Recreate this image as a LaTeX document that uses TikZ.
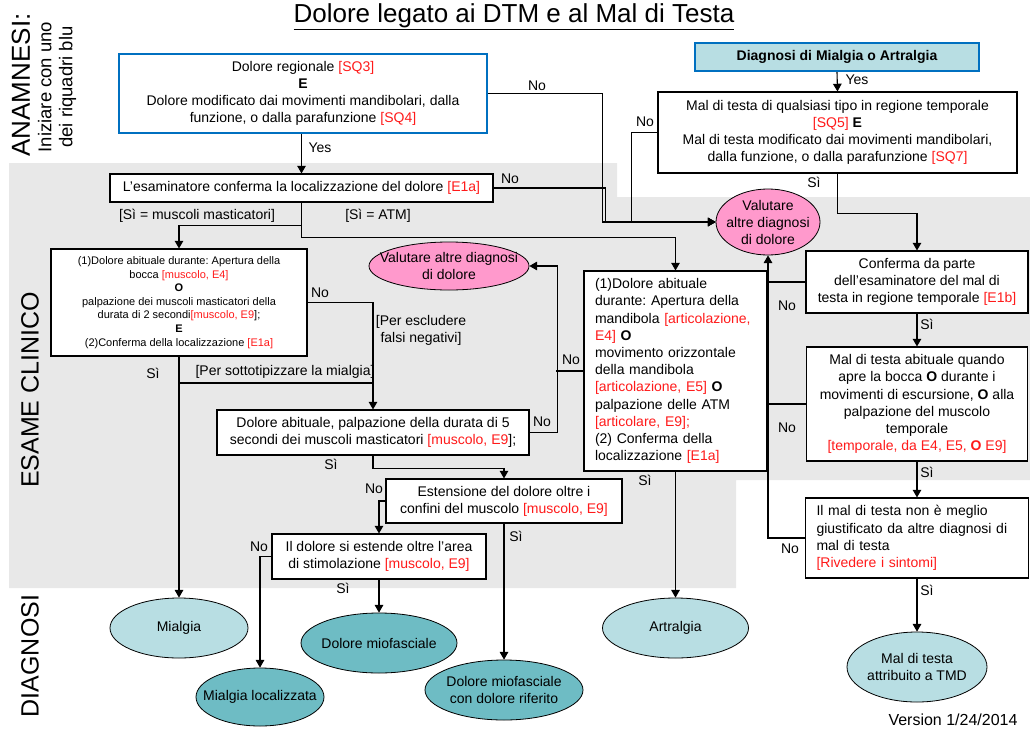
\documentclass[tikz,border=0pt]{standalone}
\usepackage{fontspec}
\setmainfont{Liberation Sans}
\usepackage{tikz}
\usetikzlibrary{arrows,shapes.geometric}
\definecolor{sfondo}{HTML}{E8E8E8}
\definecolor{rosa}{HTML}{FF99CC}
\definecolor{celeste}{HTML}{B8DEE3}
\definecolor{ottanio}{HTML}{6EBCC4}
\definecolor{blu}{HTML}{0070C0}
\definecolor{rosso}{HTML}{FF1A1A}
\newcommand{\rosso}[1]{\textcolor{rosso}{#1}}
\frenchspacing
\tikzset{box node/.style={draw,fill=white,line width=1.1pt,inner sep=0pt,align=center,font=\fontsize{14}{17}\selectfont},}
\tikzset{left node/.style={box node,align=left,inner xsep=11pt},}
\tikzset{oval node/.style={ellipse,draw,line width=0.8pt,inner sep=0pt},}
\tikzset{freccia/.style={-triangle 60,line width=1.1pt},}
\tikzstyle{ann} = [font=\fontsize{14}{17}\selectfont,inner sep=1pt]

\begin{document}
\begin{tikzpicture}[x=1pt,y=-1pt,inner sep=0.4mm]
\useasboundingbox (0,0) rectangle (1030,728);
\fill[sfondo] (9,163) -- (617,163) -- (617,197) -- (1030,197) -- (1030,480) -- (736,480) -- (736,588) -- (9,588) -- cycle;
\node[font=\fontsize{26}{26}\selectfont] (t1) at (514,17) {\underline{Dolore legato ai DTM e al Mal di Testa}};
\node[rotate=90,font=\fontsize{26}{26}\selectfont] (t2) at (21,85) {ANAMNESI:};
\node[rotate=90,align=center,font=\fontsize{18.5}{21}\selectfont] (t3) at (57,87) {Iniziare con uno\\dei riquadri blu};
\node[rotate=90,font=\fontsize{25}{25}\selectfont] (t4) at (30,390) {ESAME CLINICO};
\node[rotate=90,font=\fontsize{25}{25}\selectfont] (t5) at (30,656) {DIAGNOSI};

\node[box node,draw=blu,line width=2.2pt,minimum width=368pt,minimum height=79pt] (1) at (303,93.5) {Dolore regionale \rosso{[SQ3]}\\\textbf{E}\\Dolore modificato dai movimenti mandibolari, dalla\\funzione, o dalla parafunzione \rosso{[SQ4]}};
\node[box node,minimum width=383pt,minimum height=28pt] (2) at (301.5,188) {L’esaminatore conferma la localizzazione del dolore \rosso{[E1a]}};
\node[box node,draw=blu,fill=celeste,line width=2.2pt,minimum width=284pt,minimum height=28pt,font=\fontsize{14}{17}\selectfont\bfseries] (3) at (837,57) {Diagnosi di Mialgia o Artralgia};
\node[box node,minimum width=359pt,minimum height=81pt] (4) at (837.5,132.5) {Mal di testa di qualsiasi tipo in regione temporale\\\rosso{[SQ5]} \textbf{E}\\Mal di testa modificato dai movimenti mandibolari,\\dalla funzione, o dalla parafunzione \rosso{[SQ7]}};
\node[oval node,fill=rosa,minimum width=104pt,minimum height=66pt] (5) at (768,222) {};
\node[ann,align=center] (5t) at (5) {Valutare\\altre diagnosi\\di dolore};
\node[box node,minimum width=222pt,minimum height=62pt] (6) at (917,282) {Conferma da parte\\dell’esaminatore del mal di\\testa in regione temporale \rosso{[E1b]}};
\node[box node,minimum width=221pt,minimum height=114pt,font=\fontsize{14}{17.2}\selectfont] (7) at (917,404) {Mal di testa abituale quando\\apre la bocca \textbf{O} durante i\\movimenti di escursione, \textbf{O} alla\\palpazione del muscolo\\temporale\\\rosso{[temporale, da E4, E5, \textbf{O} E9]}};
\node[left node,text width=201pt,minimum height=80pt,font=\fontsize{14}{17.3}\selectfont] (8) at (917,538) {Il mal di testa non è meglio\\giustificato da altre diagnosi di\\mal di testa\\\rosso{[Rivedere i sintomi]}};
\node[oval node,fill=celeste,minimum width=140pt,minimum height=70pt] (9) at (917,667) {};
\node[ann,align=center] (9t) at (9) {Mal di testa\\attribuito a TMD};

\node[box node,minimum width=256pt,minimum height=107pt,font=\fontsize{11}{13.6}\selectfont] (10) at (179,302.5) {(1)Dolore abituale durante: Apertura della\\bocca \rosso{[muscolo, E4]}\\\textbf{O}\\palpazione dei muscoli masticatori della\\durata di 2 secondi\rosso{[muscolo, E9}];\\\textbf{E}\\(2)Conferma della localizzazione \rosso{[E1a]}};
\node[left node,text width=161pt,minimum height=200pt,font=\fontsize{14}{17.2}\selectfont] (11) at (675.5,371) {(1)Dolore abituale\\durante: Apertura della\\mandibola \rosso{[articolazione,}\\\rosso{E4]} \textbf{O}\\movimento orizzontale\\della mandibola\\\rosso{[articolazione, E5]} \textbf{O}\\palpazione delle ATM\\\rosso{[articolare, E9];}\\(2) Conferma della\\localizzazione \rosso{[E1a]}};
\node[oval node,fill=rosa,minimum width=160pt,minimum height=48pt] (12) at (449,266) {};
\node[ann,align=center] (12t) at (12) {Valutare altre diagnosi\\di dolore};
\node[box node,minimum width=312pt,minimum height=45pt] (13) at (373,432.5) {Dolore abituale, palpazione della durata di 5\\secondi dei muscoli masticatori \rosso{[muscolo, E9}];};
\node[box node,minimum width=236pt,minimum height=44pt] (14) at (504,501) {Estensione del dolore oltre i\\confini del muscolo \rosso{[muscolo, E9]}};
\node[box node,minimum width=214pt,minimum height=45pt] (15) at (379,556.5) {Il dolore si estende oltre l’area\\di stimolazione \rosso{[muscolo, E9]}};

\node[oval node,fill=celeste,minimum width=138pt,minimum height=60pt] (16) at (179,628) {};
\node[ann] (16t) at (16) {Mialgia};
\node[oval node,fill=ottanio,minimum width=156pt,minimum height=60pt] (17) at (379,643) {};
\node[ann] (17t) at (17) {Dolore miofasciale};
\node[oval node,fill=ottanio,minimum width=128pt,minimum height=58pt] (18) at (260,697) {};
\node[ann] (18t) at (18) {Mialgia localizzata};
\node[oval node,fill=ottanio,minimum width=158pt,minimum height=60pt] (19) at (504,690) {};
\node[ann,align=center] (19t) at (19) {Dolore miofasciale\\con dolore riferito};
\node[oval node,fill=celeste,minimum width=146pt,minimum height=60pt] (20) at (675.5,628) {};
\node[ann] (20t) at (20) {Artralgia};

\draw[freccia] (2.north |- 1.south) -- (2.north);
\draw[freccia] (1.east) -- ++(114,0) |- (5.west);
\draw[freccia] (2.east) -- ++(112,0) |- (5.west);
\draw[freccia] (4.west) -- ++(-26,0) |- (5.west);
\draw[freccia] (3.south) -- (4.north);
\draw[freccia] (4.south) -- ++(0,39.5) -| (6.north);
\draw[freccia] (6.south) -- (7.north);
\draw[freccia] (7.south) -- (8.north);
\draw[freccia] (8.south) -- (9.north);
\draw[line width=1.1pt] (6.west) -- (6.west -| 5.south);
\draw[line width=1.1pt] (7.west) -- (7.west -| 5.south);
\draw[freccia] (8.west) -| (5.south);
\draw[freccia] (2.south) -- ++(0,23) -| (10.north);
\draw[freccia] (2.south) -- ++(0,35) -| (11.north);
\draw[freccia] (10.south) -- (16.north);
\draw[freccia] (10.east) -| (13.north);
\coordinate (r) at (179,383);
\draw[line width=1.1pt] (r) -- (r -| 13.north);
\draw[freccia] (13.east) -- ++(28,0) |- (12.east);
\draw[line width=1.1pt] (11.west) -- ++(-27,0);
\draw[freccia] (13.south) -- ++(0,13) -| (14.north);
\draw[freccia] (14.west) -| (15.north);
\draw[freccia] (14.south) -- (19.north);
\draw[freccia] (15.south) -- (17.north);
\draw[freccia] (15.west) -| (18.north);
\draw[freccia] (11.south) -- (20.north);

\node[ann] (a1) at (320,148) {Yes};
\node[ann] (a2) at (537,86) {No};
\node[ann] (a3) at (510,179) {No};
\node[ann] (a4) at (645,122) {No};
\node[ann] (a5) at (857,80) {Yes};
\node[ann] (a6) at (814,182) {Sì};
\node[ann] (a7) at (197,216) {[Sì = muscoli masticatori]};
\node[ann] (a8) at (378,216) {[Sì = ATM]};
\node[ann] (a9) at (320,293) {No};
\node[ann,align=center] (a10) at (421,330) {[Per escludere\\falsi negativi]};
\node[ann] (a11) at (153,373) {Sì};
\node[ann] (a12) at (285,372) {[Per sottotipizzare la mialgia]};
\node[ann] (a13) at (542,422) {No};
\node[ann] (a14) at (571,360) {No};
\node[ann] (a15) at (331,464) {Sì};
\node[ann] (a16) at (374,489) {No};
\node[ann] (a17) at (516,536) {Sì};
\node[ann] (a18) at (259,547) {No};
\node[ann] (a19) at (343,588) {Sì};
\node[ann] (a20) at (645,480) {Sì};
\node[ann] (a21) at (787,306) {No};
\node[ann] (a22) at (927,324) {Sì};
\node[ann] (a23) at (787,428) {No};
\node[ann] (a24) at (927,472) {Sì};
\node[ann] (a25) at (790,549) {No};
\node[ann] (a26) at (927,590) {Sì};
\node[font=\fontsize{16}{16}\selectfont] (a27) at (953,720) {Version 1/24/2014};
\end{tikzpicture}
\end{document}
